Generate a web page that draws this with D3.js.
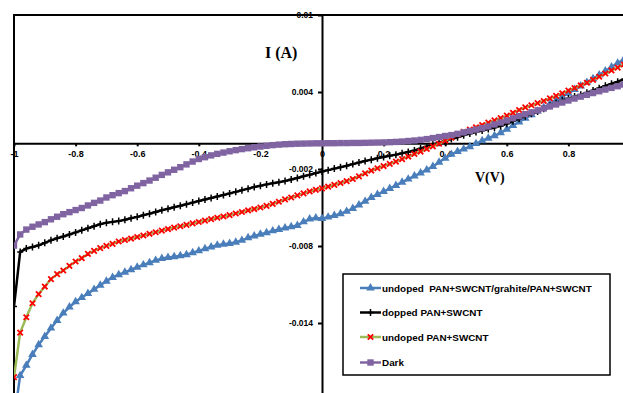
<!DOCTYPE html>
<html>
<head>
<meta charset="utf-8">
<script src="https://cdn.jsdelivr.net/npm/d3@7"></script>
<style>
  body { margin: 0; background: #fff; }
  svg { display: block; }
</style>
</head>
<body>
<svg id="chart" width="623" height="393"></svg>
<script>
// bias voltage (V), one sample every 0.02 V
const voltage = [
  -1.00, -0.98, -0.96, -0.94, -0.92, -0.90, -0.88, -0.86, -0.84, -0.82,
  -0.80, -0.78, -0.76, -0.74, -0.72, -0.70, -0.68, -0.66, -0.64, -0.62,
  -0.60, -0.58, -0.56, -0.54, -0.52, -0.50, -0.48, -0.46, -0.44, -0.42,
  -0.40, -0.38, -0.36, -0.34, -0.32, -0.30, -0.28, -0.26, -0.24, -0.22,
  -0.20, -0.18, -0.16, -0.14, -0.12, -0.10, -0.08, -0.06, -0.04, -0.02,
   0.00,  0.02,  0.04,  0.06,  0.08,  0.10,  0.12,  0.14,  0.16,  0.18,
   0.20,  0.22,  0.24,  0.26,  0.28,  0.30,  0.32,  0.34,  0.36,  0.38,
   0.40,  0.42,  0.44,  0.46,  0.48,  0.50,  0.52,  0.54,  0.56,  0.58,
   0.60,  0.62,  0.64,  0.66,  0.68,  0.70,  0.72,  0.74,  0.76,  0.78,
   0.80,  0.82,  0.84,  0.86,  0.88,  0.90,  0.92,  0.94,  0.96,  0.98
];

// currents in mA (axis labels are in A)
const graphiteMA = [
  -21.50, -18.10, -17.30, -16.45, -15.70, -15.05, -14.40, -13.80, -13.23, -12.76,
  -12.35, -12.02, -11.70, -11.38, -11.06, -10.74, -10.45, -10.24, -10.05, -9.85,
  -9.65, -9.47, -9.30, -9.12, -8.98, -8.90, -8.83, -8.76, -8.68, -8.52,
  -8.38, -8.22, -8.08, -7.94, -7.86, -7.80, -7.70, -7.56, -7.36, -7.22,
  -7.08, -6.96, -6.82, -6.72, -6.60, -6.50, -6.40, -6.12, -5.90, -5.82,
  -5.85, -5.75, -5.63, -5.48, -5.30, -5.08, -4.80, -4.52, -4.22, -3.99,
  -3.76, -3.52, -3.28, -3.03, -2.79, -2.55, -2.31, -2.07, -1.80, -1.48,
  -1.16, -0.86, -0.64, -0.45, -0.26, -0.02, 0.20, 0.40, 0.59, 0.82,
  1.10, 1.39, 1.67, 1.95, 2.23, 2.51, 2.79, 3.07, 3.35, 3.63,
  3.91, 4.19, 4.47, 4.75, 5.03, 5.33, 5.64, 5.95, 6.25, 6.53
];

const dopedMA = [
  -12.72, -8.46, -8.20, -8.08, -7.95, -7.75, -7.56, -7.40, -7.26, -7.10,
  -6.94, -6.78, -6.62, -6.46, -6.30, -6.18, -6.12, -6.06, -5.95, -5.84,
  -5.73, -5.60, -5.48, -5.35, -5.22, -5.10, -4.98, -4.86, -4.74, -4.62,
  -4.50, -4.38, -4.26, -4.14, -4.02, -3.90, -3.78, -3.65, -3.53, -3.41,
  -3.30, -3.20, -3.11, -3.03, -2.94, -2.82, -2.70, -2.57, -2.45, -2.32,
  -2.20, -2.09, -1.97, -1.86, -1.75, -1.62, -1.50, -1.38, -1.27, -1.16,
  -1.06, -0.97, -0.88, -0.78, -0.67, -0.55, -0.40, -0.24, -0.08, 0.05,
  0.18, 0.33, 0.47, 0.63, 0.76, 0.88, 1.00, 1.12, 1.24, 1.36,
  1.52, 1.72, 1.92, 2.12, 2.30, 2.48, 2.70, 2.92, 3.14, 3.35,
  3.50, 3.64, 3.79, 3.95, 4.12, 4.30, 4.48, 4.64, 4.80, 4.99
];

const undopedMA = [
  -18.22, -14.75, -13.55, -12.46, -11.75, -11.16, -10.58, -10.19, -9.91, -9.55,
  -9.21, -8.95, -8.61, -8.38, -8.17, -7.99, -7.83, -7.65, -7.53, -7.42,
  -7.30, -7.18, -7.05, -6.93, -6.80, -6.68, -6.57, -6.46, -6.35, -6.24,
  -6.13, -6.02, -5.91, -5.80, -5.70, -5.59, -5.47, -5.35, -5.23, -5.12,
  -5.00, -4.87, -4.72, -4.55, -4.37, -4.22, -4.06, -3.90, -3.75, -3.62,
  -3.51, -3.38, -3.24, -3.09, -2.94, -2.78, -2.57, -2.34, -2.12, -1.94,
  -1.77, -1.60, -1.43, -1.23, -1.03, -0.83, -0.64, -0.44, -0.24, -0.03,
  0.20, 0.44, 0.70, 0.90, 1.08, 1.25, 1.43, 1.61, 1.79, 1.97,
  2.16, 2.38, 2.60, 2.80, 2.97, 3.13, 3.30, 3.50, 3.70, 3.90,
  4.11, 4.31, 4.51, 4.72, 4.95, 5.19, 5.44, 5.68, 5.90, 6.14
];

const darkMA = [
  -7.97, -7.10, -6.72, -6.50, -6.32, -6.14, -5.92, -5.72, -5.52, -5.36,
  -5.20, -5.04, -4.84, -4.64, -4.46, -4.22, -4.04, -3.88, -3.72, -3.50,
  -3.30, -3.10, -2.90, -2.68, -2.46, -2.26, -2.06, -1.86, -1.64, -1.42,
  -1.22, -1.08, -0.94, -0.82, -0.72, -0.62, -0.53, -0.45, -0.38, -0.31,
  -0.25, -0.19, -0.14, -0.10, -0.07, -0.05, -0.03, -0.02, -0.01, 0.00,
  0.00, 0.01, 0.01, 0.02, 0.02, 0.03, 0.03, 0.04, 0.05, 0.06,
  0.07, 0.09, 0.11, 0.14, 0.18, 0.22, 0.27, 0.33, 0.41, 0.49,
  0.57, 0.64, 0.74, 0.85, 0.96, 1.07, 1.18, 1.31, 1.47, 1.62,
  1.78, 1.95, 2.12, 2.27, 2.42, 2.57, 2.72, 2.88, 3.03, 3.18,
  3.34, 3.49, 3.64, 3.78, 3.92, 4.06, 4.19, 4.32, 4.45, 4.58
];

const seriesNames = [
  'undoped  PAN+SWCNT/grahite/PAN+SWCNT',
  'dopped PAN+SWCNT',
  'undoped PAN+SWCNT',
  'Dark'
];

const xTickValues = [-1, -0.8, -0.6, -0.4, -0.2, 0, 0.2, 0.4, 0.6, 0.8];
const xTickLabels = ['-1', '-0.8', '-0.6', '-0.4', '-0.2', '0', '0.2', '0.4', '0.6', '0.8'];
const yTickValues = [10, 4, -2, -8, -14];
const yTickLabels = ['0.01', '0.004', '-0.002', '-0.008', '-0.014'];

const series = [
  {name: seriesNames[0], values: graphiteMA, line: '#4a7ebb', marker: 'triangle', mark: '#4a7ebb'},
  {name: seriesNames[1], values: dopedMA, line: '#000000', marker: 'plus', mark: '#000000'},
  {name: seriesNames[2], values: undopedMA, line: '#9bbb59', marker: 'cross', mark: '#ff0000'},
  {name: seriesNames[3], values: darkMA, line: '#8064a2', marker: 'square', mark: '#8064a2'}
];

const sansFont = 'Arial, "Liberation Sans", sans-serif';
const serifFont = '"Times New Roman", "Liberation Serif", serif';

const plot = {left: 14, top: 15, right: 630, bottom: 400};

const xScale = d3.scaleLinear().domain([-1, 1]).range([plot.left, plot.right]);
const yScale = d3.scaleLinear().domain([-20, 10]).range([plot.bottom, plot.top]);

const svg = d3.select('#chart');

svg.append('defs').append('clipPath')
  .attr('id', 'plot-clip')
  .append('rect')
  .attr('x', plot.left)
  .attr('y', plot.top)
  .attr('width', plot.right - plot.left)
  .attr('height', plot.bottom - plot.top);

// plot area frame (only left and top are inside the picture)
svg.append('rect')
  .attr('x', plot.left)
  .attr('y', plot.top)
  .attr('width', plot.right - plot.left)
  .attr('height', plot.bottom - plot.top)
  .attr('fill', 'none')
  .attr('stroke', '#000')
  .attr('stroke-width', 2);

// axes cross at the origin
const xAxis = svg.append('g')
  .attr('id', 'x-axis')
  .attr('transform', `translate(0,${yScale(0)})`)
  .call(d3.axisBottom(xScale)
    .tickValues(xTickValues)
    .tickFormat((d, i) => xTickLabels[i])
    .tickSize(3)
    .tickSizeOuter(0)
    .tickPadding(4));

const yAxis = svg.append('g')
  .attr('id', 'y-axis')
  .attr('transform', `translate(${xScale(0)},0)`)
  .call(d3.axisLeft(yScale)
    .tickValues(yTickValues)
    .tickFormat((d, i) => yTickLabels[i])
    .tickSize(4)
    .tickSizeOuter(0)
    .tickPadding(5));

[xAxis, yAxis].forEach(g => {
  g.select('.domain').attr('stroke', '#000').attr('stroke-width', 2);
  g.selectAll('.tick line').attr('stroke', '#000').attr('stroke-width', 2);
});
xAxis.selectAll('.tick text')
  .style('font-family', sansFont)
  .style('font-size', '9px')
  .style('font-weight', 'bold')
  .attr('fill', '#000');
yAxis.selectAll('.tick text')
  .style('font-family', sansFont)
  .style('font-size', '8.5px')
  .style('font-weight', 'bold')
  .attr('fill', '#000');

// axis titles
svg.append('text')
  .text('I (A)')
  .attr('x', 265)
  .attr('y', 58)
  .style('font-family', serifFont)
  .style('font-size', '16px')
  .style('font-weight', 'bold');

svg.append('text')
  .text('V(V)')
  .attr('x', 475)
  .attr('y', 182)
  .style('font-family', serifFont)
  .style('font-size', '14px')
  .style('font-weight', 'bold');

function drawMarker(sel, type, color) {
  if (type === 'triangle') {
    sel.append('path')
      .attr('d', d3.symbol(d3.symbolTriangle, 32)())
      .attr('fill', color);
  } else if (type === 'plus') {
    sel.append('path')
      .attr('d', 'M-3,0H3M0,-3.5V3.5')
      .attr('stroke', color)
      .attr('stroke-width', 1.5)
      .attr('fill', 'none');
  } else if (type === 'cross') {
    sel.append('path')
      .attr('d', 'M-2.7,-2.7L2.7,2.7M-2.7,2.7L2.7,-2.7')
      .attr('stroke', color)
      .attr('stroke-width', 1.8)
      .attr('fill', 'none');
  } else {
    sel.append('rect')
      .attr('x', -3.2)
      .attr('y', -3.2)
      .attr('width', 6.4)
      .attr('height', 6.4)
      .attr('fill', color);
  }
}

const line = d3.line()
  .x((d, i) => xScale(voltage[i]))
  .y(d => yScale(d));

const plotGroup = svg.append('g').attr('clip-path', 'url(#plot-clip)');

series.forEach(s => {
  const g = plotGroup.append('g');
  g.append('path')
    .datum(s.values)
    .attr('d', line)
    .attr('fill', 'none')
    .attr('stroke', s.line)
    .attr('stroke-width', 2.5)
    .attr('stroke-linejoin', 'round');

  g.selectAll('g.marker')
    .data(s.values)
    .join('g')
    .attr('class', 'marker')
    .attr('transform', (d, i) => `translate(${xScale(voltage[i])},${yScale(d)})`)
    .each(function () { drawMarker(d3.select(this), s.marker, s.mark); });
});

// legend
const legend = svg.append('g').attr('id', 'legend');
legend.append('rect')
  .attr('x', 343)
  .attr('y', 274)
  .attr('width', 267)
  .attr('height', 101)
  .attr('fill', '#fff')
  .attr('stroke', '#000')
  .attr('stroke-width', 1.5);

const legendRows = [288, 312.5, 337, 362.5];
series.forEach((s, i) => {
  const row = legend.append('g').attr('transform', `translate(0,${legendRows[i]})`);
  row.append('line')
    .attr('x1', 360).attr('x2', 381)
    .attr('stroke', s.line)
    .attr('stroke-width', 2.5);
  drawMarker(row.append('g').attr('transform', 'translate(370.5,0)'), s.marker, s.mark);
  row.append('text')
    .text(s.name)
    .attr('x', 382)
    .attr('y', 3.5)
    .style('white-space', 'pre')
    .style('font-family', sansFont)
    .style('font-size', '9.9px')
    .style('font-weight', 'bold')
    .attr('fill', '#000');
});
</script>
</body>
</html>
